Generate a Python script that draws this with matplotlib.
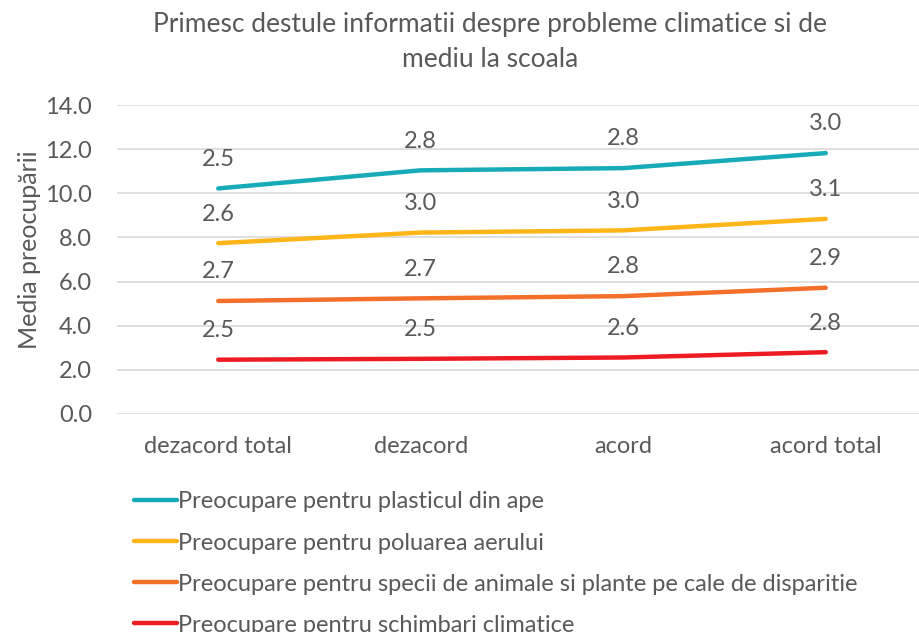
import matplotlib
matplotlib.use("Agg")
import matplotlib.pyplot as plt
import numpy as np

plt.rcParams['font.family'] = ['Lato', 'DejaVu Sans']

categories = ["dezacord total", "dezacord", "acord", "acord total"]
series_names = [
    "Preocupare pentru schimbari climatice",
    "Preocupare pentru specii de animale si plante pe cale de disparitie",
    "Preocupare pentru poluarea aerului",
    "Preocupare pentru plasticul din ape",
]
# stacked order: bottom to top
schimbari = [2.46, 2.50, 2.56, 2.80]
specii = [2.66, 2.74, 2.78, 2.92]
poluare = [2.62, 2.98, 2.98, 3.12]
plastic = [2.48, 2.82, 2.82, 2.98]
colors = ["#ED1C24", "#F36F2A", "#FDB517", "#17ABB7"]

gray = "#595959"
fs = 17

fig = plt.figure(figsize=(9.19, 6.32), dpi=100)
ax = fig.add_axes([117 / 919, 1 - 414 / 632, 810 / 919, 309 / 632])

x = np.arange(len(categories))
cum = np.zeros(len(categories))
lines = []
for vals, col, name in zip([schimbari, specii, poluare, plastic], colors, series_names):
    cum = cum + np.array(vals)
    ln, = ax.plot(x, cum, color=col, lw=3.2, solid_capstyle='round', label=name)
    lines.append(ln)
    for xi, yi, v in zip(x, cum, vals):
        ax.annotate(f"{v:.1f}", (xi, yi), xytext=(0, 21), textcoords='offset points',
                    ha='center', va='center', fontsize=fs, color=gray)

ax.set_xlim(-0.5, 3.5)
ax.set_ylim(0, 14)
ax.set_yticks(np.arange(0, 15, 2))
ax.set_yticklabels([f"{t:.1f}" for t in np.arange(0, 15, 2)])
ax.set_xticks(x)
ax.set_xticklabels(categories)
ax.tick_params(axis='both', length=0, labelsize=fs, colors=gray)
ax.tick_params(axis='y', pad=18)
ax.tick_params(axis='x', pad=16)
ax.grid(axis='y', color='#D9D9D9', lw=1.2)
ax.set_axisbelow(True)
for s in ax.spines.values():
    s.set_visible(False)

ax.set_ylabel("Media preocupării", fontsize=18, color=gray)
ax.yaxis.set_label_coords(-76 / 810, 0.53)

fig.suptitle("Primesc destule informatii despre probleme climatice si de\nmediu la scoala",
             x=490 / 919, y=1 - 12 / 632, va='top', fontsize=19, color=gray, linespacing=1.5)

# legend runs off the bottom edge, as in the original
handles = lines[::-1]
fig.legend(handles, [h.get_label() for h in handles], loc='upper left',
           bbox_to_anchor=(125 / 919, 1 - 482 / 632), frameon=False,
           fontsize=fs, labelcolor=gray, handlelength=1.8, handletextpad=0.05,
           labelspacing=0.85, borderaxespad=0)

fig.savefig("out.png", dpi=100)
